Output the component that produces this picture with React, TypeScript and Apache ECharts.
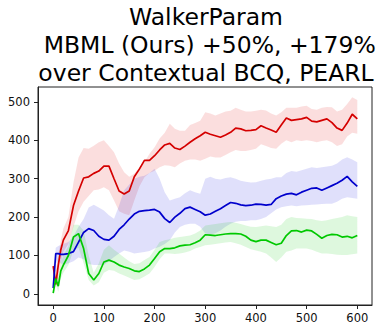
import React, { useEffect, useRef } from "react";
import * as echarts from "echarts";

const titleLines = ["WalkerParam", " MBML (Ours) +50%, +179%", "over Contextual BCQ, PEARL"];
const xTicks = [0, 100, 200, 300, 400, 500, 600];
const yTicks = [0, 100, 200, 300, 400, 500];

const steps = [0, 5, 10, 15, 20, 30, 40, 50, 60, 70, 80, 90, 100, 110, 120, 130, 140, 150, 160, 170, 180, 190, 200, 210, 220, 230, 240, 250, 260, 270, 280, 290, 300, 310, 320, 330, 340, 350, 360, 370, 380, 390, 400, 410, 420, 430, 440, 450, 460, 470, 480, 490, 500, 510, 520, 530, 540, 550, 560, 570, 580, 590, 600];

const redMean = [72, 25, 75, 115, 140, 165, 230, 268, 302, 305, 314, 320, 333, 333, 300, 268, 260, 268, 305, 325, 348, 348, 360, 375, 388, 392, 380, 376, 385, 395, 404, 412, 421, 416, 412, 408, 414, 421, 432, 430, 425, 426, 428, 438, 432, 427, 421, 440, 458, 452, 454, 456, 460, 450, 448, 452, 456, 446, 432, 426, 445, 468, 456];
const redUpper = [80, 60, 100, 140, 170, 200, 290, 355, 380, 378, 386, 395, 400, 385, 369, 340, 317, 305, 313, 330, 343, 365, 382, 405, 420, 443, 430, 425, 425, 440, 445, 451, 473, 470, 465, 470, 475, 477, 485, 480, 475, 475, 477, 480, 478, 470, 465, 473, 485, 485, 485, 488, 490, 482, 480, 485, 487, 486, 475, 480, 495, 512, 505];
const redLower = [60, 15, 40, 80, 110, 130, 175, 215, 240, 255, 270, 272, 278, 270, 243, 215, 209, 205, 243, 280, 304, 315, 321, 330, 335, 334, 330, 340, 347, 350, 350, 347, 352, 358, 355, 355, 362, 369, 375, 372, 372, 375, 378, 390, 385, 380, 378, 391, 400, 395, 400, 398, 400, 398, 395, 398, 400, 395, 385, 390, 410, 420, 417];

const blueMean = [15, 105, 105, 103, 103, 105, 110, 135, 160, 170, 165, 150, 142, 140, 150, 168, 180, 195, 208, 215, 217, 218, 220, 213, 196, 186, 200, 210, 222, 226, 220, 214, 205, 208, 215, 222, 230, 238, 236, 232, 230, 231, 234, 233, 231, 233, 248, 255, 260, 262, 258, 265, 270, 275, 276, 270, 276, 282, 288, 296, 306, 292, 280];
const blueUpper = [40, 120, 125, 128, 130, 135, 150, 175, 195, 225, 232, 225, 217, 205, 196, 230, 270, 285, 300, 305, 308, 315, 326, 300, 265, 243, 248, 252, 262, 270, 265, 261, 300, 305, 300, 298, 302, 304, 300, 295, 292, 290, 291, 295, 298, 300, 304, 304, 315, 320, 318, 322, 326, 330, 328, 330, 332, 334, 340, 350, 356, 350, 343];
const blueLower = [5, 80, 85, 80, 75, 80, 85, 95, 90, 78, 75, 75, 75, 85, 96, 105, 113, 110, 105, 107, 109, 112, 118, 123, 130, 140, 160, 174, 180, 183, 183, 175, 157, 155, 158, 165, 175, 183, 188, 190, 190, 192, 192, 195, 200, 210, 220, 226, 228, 230, 228, 230, 231, 232, 233, 234, 235, 235, 240, 248, 252, 250, 248];

const greenMean = [2, 40, 20, 60, 75, 100, 148, 157, 118, 53, 36, 53, 83, 88, 83, 75, 70, 66, 60, 58, 65, 75, 92, 110, 118, 118, 120, 125, 127, 128, 133, 140, 154, 153, 152, 154, 156, 157, 157, 156, 150, 140, 136, 140, 140, 134, 128, 132, 152, 164, 165, 161, 166, 164, 155, 145, 152, 155, 154, 148, 150, 146, 152];
const greenUpper = [10, 55, 40, 80, 100, 125, 180, 180, 165, 100, 55, 80, 115, 127, 115, 105, 95, 85, 78, 80, 88, 96, 115, 135, 140, 142, 146, 148, 150, 152, 157, 165, 178, 180, 182, 184, 186, 187, 185, 182, 178, 175, 174, 176, 178, 176, 174, 180, 195, 200, 198, 197, 196, 195, 192, 190, 192, 195, 198, 200, 205, 202, 200];
const greenLower = [0, 25, 5, 40, 55, 75, 113, 120, 80, 36, 22, 30, 55, 62, 60, 53, 48, 42, 36, 38, 45, 53, 70, 90, 105, 105, 104, 105, 108, 112, 118, 122, 127, 128, 130, 132, 134, 135, 132, 128, 122, 116, 113, 110, 105, 95, 83, 95, 110, 113, 118, 118, 118, 115, 110, 105, 105, 104, 102, 101, 101, 103, 105];

const methods = [
  { key: "red", mean: redMean, upper: redUpper, lower: redLower, line: "#d40000", fill: "rgba(225,0,0,0.13)" },
  { key: "blue", mean: blueMean, upper: blueUpper, lower: blueLower, line: "#0000cc", fill: "rgba(0,0,225,0.12)" },
  { key: "green", mean: greenMean, upper: greenUpper, lower: greenLower, line: "#00c800", fill: "rgba(0,200,0,0.13)" },
];

const FONT = "DejaVu Sans";

export default function App() {
  const ref = useRef<HTMLDivElement>(null);
  useEffect(() => {
    document.body.style.margin = "0";
    const chart = echarts.init(ref.current!, null, { renderer: "svg" });
    const series: any[] = [];
    methods.forEach((m) => {
      const data = steps.map((x, i) => [x, m.lower[i], m.upper[i]]);
      series.push({
        type: "custom",
        name: m.key + "-band",
        data,
        encode: { x: 0, y: [1, 2] },
        silent: true,
        z: 1,
        renderItem: (params: any, api: any) => {
          if (params.dataIndex !== 0) return null;
          const top = data.map((d) => api.coord([d[0], d[2]]));
          const bot = data.map((d) => api.coord([d[0], d[1]])).reverse();
          return {
            type: "polygon",
            shape: { points: top.concat(bot) },
            style: { fill: m.fill, stroke: "none" },
          };
        },
      });
    });
    methods.forEach((m) => {
      series.push({
        type: "line",
        name: m.key,
        data: steps.map((x, i) => [x, m.mean[i]]),
        symbol: "none",
        lineStyle: { color: m.line, width: 1.7 },
        z: 3,
      });
    });
    const axisCommon = {
      axisLine: { show: true, onZero: false, lineStyle: { color: "#222", width: 1 } },
      axisTick: { show: true, length: 4, lineStyle: { color: "#222", width: 1 } },
      splitLine: { show: false },
    };
    chart.setOption({
      animation: false,
      grid: { left: 38, top: 87, right: 12, bottom: 27, show: true, borderColor: "#222", borderWidth: 1, backgroundColor: "transparent" },
      graphic: [
        {
          type: "text",
          x: 206,
          y: 3,
          style: {
            text: titleLines.join("\n"),
            font: `23.5px '${FONT}'`,
            fill: "#000",
            align: "center",
            verticalAlign: "top",
            lineHeight: 28,
          },
        },
      ],
      xAxis: {
        type: "value",
        min: -30,
        max: 629,
        ...axisCommon,
        axisTick: { ...axisCommon.axisTick, customValues: xTicks },
        axisLabel: { customValues: xTicks, color: "#111", fontFamily: FONT, fontSize: 11.5, margin: 7 },
      },
      yAxis: {
        type: "value",
        min: -29,
        max: 539,
        ...axisCommon,
        axisTick: { ...axisCommon.axisTick, customValues: yTicks },
        axisLabel: { customValues: yTicks, color: "#111", fontFamily: FONT, fontSize: 11.5, margin: 8 },
      },
      series,
    });
    return () => chart.dispose();
  }, []);
  return <div ref={ref} style={{ width: 384, height: 332 }} />;
}
